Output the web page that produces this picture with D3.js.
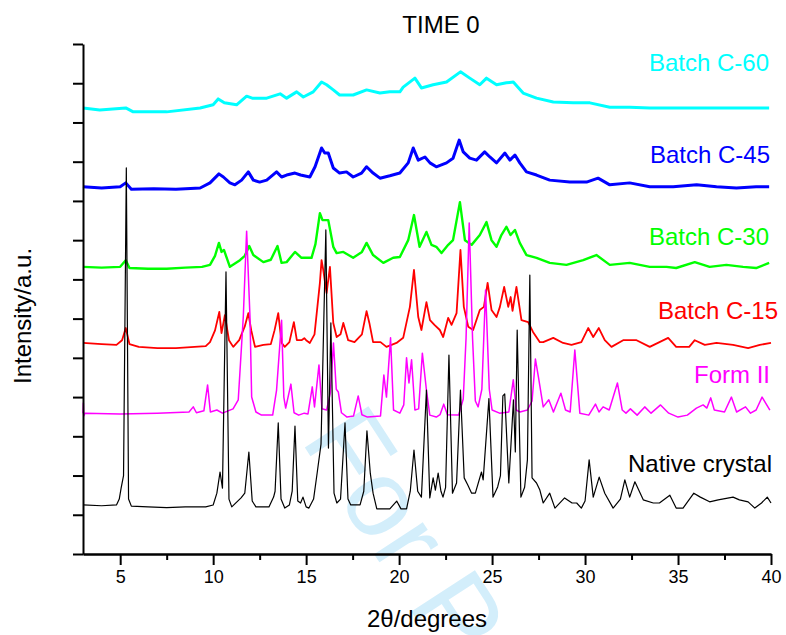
<!DOCTYPE html>
<html>
<head>
<meta charset="utf-8">
<script src="https://cdn.jsdelivr.net/npm/d3@7"></script>
<style>
  body { margin: 0; background: #fff; }
  text { font-family: Arial, "Liberation Sans", sans-serif; }
</style>
</head>
<body>
<div id="chart"></div>
<script>
// XRD patterns, intensity in arbitrary units (stacked), 2theta in degrees
const native = [[3.0,1.25],[4.0,1.23],[4.8,1.25],[4.95,1.40],[5.05,1.68],[5.18,2.0],[5.33,9.84],[5.45,1.40],[5.6,1.22],[6.5,1.20],[7.5,1.18],[8.5,1.20],[9.6,1.20],[10.0,1.25],[10.2,1.55],[10.37,2.09],[10.5,1.68],[10.69,7.19],[10.85,1.40],[11.0,1.20],[11.5,1.43],[11.7,1.55],[11.92,2.60],[12.1,1.35],[12.3,1.20],[13.0,1.20],[13.25,1.45],[13.33,1.60],[13.5,3.34],[13.65,1.40],[13.85,1.17],[14.1,1.25],[14.25,1.60],[14.4,3.26],[14.55,1.35],[14.7,1.30],[14.83,1.45],[15.0,1.20],[15.15,1.17],[15.4,1.40],[15.6,2.09],[15.8,2.80],[16.06,8.26],[16.2,2.70],[16.33,5.89],[16.5,1.55],[16.65,1.30],[16.85,1.40],[17.09,3.34],[17.25,1.40],[17.4,1.25],[17.9,1.25],[18.1,1.60],[18.27,3.14],[18.45,2.06],[18.6,1.55],[18.8,1.15],[19.5,1.15],[19.87,1.35],[20.1,1.15],[20.4,1.15],[20.6,1.60],[20.8,2.65],[21.0,1.60],[21.2,1.45],[21.47,4.18],[21.65,1.43],[21.83,1.94],[21.95,1.63],[22.1,2.06],[22.25,1.60],[22.36,1.45],[22.5,1.70],[22.68,5.07],[22.87,1.55],[23.09,1.81],[23.3,4.18],[23.5,1.94],[23.7,1.75],[23.9,1.55],[24.1,1.55],[24.43,2.09],[24.52,1.89],[24.83,3.96],[25.05,1.45],[25.3,1.71],[25.45,2.0],[25.58,4.03],[25.68,4.08],[25.9,1.81],[26.15,3.93],[26.25,2.6],[26.35,5.71],[26.55,1.45],[26.75,1.70],[26.9,2.40],[27.03,7.11],[27.15,1.94],[27.39,1.81],[27.57,1.63],[27.75,1.30],[28.1,1.55],[28.38,1.17],[28.9,1.43],[29.3,1.30],[29.55,1.30],[29.8,1.17],[30.0,1.35],[30.22,2.40],[30.44,1.45],[30.76,1.96],[31.06,1.55],[31.51,1.17],[31.9,1.40],[32.14,1.89],[32.4,1.45],[32.68,1.84],[33.13,1.38],[33.67,1.30],[34.0,1.30],[34.56,1.50],[34.9,1.17],[35.27,1.17],[35.85,1.55],[36.2,1.45],[36.7,1.33],[37.16,1.38],[37.96,1.45],[38.3,1.38],[38.77,1.33],[39.13,1.17],[39.49,1.30],[39.8,1.45],[40.0,1.30]];

const formII = [[3.0,3.59],[3.02,3.85],[3.04,3.52],[3.1,3.59],[5.0,3.57],[7.0,3.59],[8.7,3.62],[8.93,3.75],[9.1,3.60],[9.5,3.65],[9.7,4.31],[9.85,3.62],[10.2,3.67],[10.5,3.59],[11.07,3.70],[11.35,3.93],[11.62,6.04],[11.8,8.23],[11.98,6.04],[12.07,4.0],[12.3,3.62],[12.6,3.54],[13.2,3.54],[13.41,4.18],[13.68,5.96],[13.8,4.0],[13.9,3.72],[14.18,4.33],[14.35,3.60],[14.6,3.54],[14.9,3.59],[15.1,3.57],[15.33,4.26],[15.45,3.75],[15.69,4.82],[15.85,3.70],[16.1,3.67],[16.3,4.1],[16.47,5.38],[16.62,4.20],[16.73,4.13],[16.9,3.60],[17.2,3.49],[17.55,3.52],[17.8,4.03],[18.0,3.55],[18.3,3.49],[19.0,3.52],[19.18,4.56],[19.32,4.00],[19.54,5.51],[19.7,3.67],[20.04,3.59],[20.25,3.80],[20.4,5.0],[20.53,4.36],[20.67,4.95],[20.85,3.67],[21.05,3.70],[21.25,5.12],[21.47,4.18],[21.65,3.54],[22.0,3.49],[22.2,3.55],[22.4,3.82],[22.6,3.55],[23.2,3.54],[23.45,3.95],[23.6,5.5],[23.77,8.44],[23.95,5.5],[24.1,3.9],[24.25,3.75],[24.45,4.2],[24.65,6.73],[24.85,4.2],[25.0,3.67],[25.4,3.59],[25.9,3.62],[26.14,4.44],[26.3,3.67],[26.5,3.62],[26.9,3.67],[27.15,3.9],[27.33,4.97],[27.5,4.49],[27.75,3.75],[28.05,3.93],[28.3,3.62],[28.7,4.10],[28.95,3.67],[29.2,3.62],[29.45,5.20],[29.72,3.59],[30.2,3.54],[30.56,3.82],[30.75,3.62],[30.97,3.75],[31.3,3.67],[31.74,4.36],[32.0,3.67],[32.2,3.59],[32.44,3.70],[32.8,3.54],[33.21,3.75],[33.55,3.59],[34.06,3.80],[34.5,3.59],[35.0,3.49],[35.5,3.54],[35.99,3.72],[36.35,3.80],[36.55,3.72],[36.76,3.98],[36.95,3.67],[37.5,3.62],[37.87,4.00],[38.15,3.62],[38.63,3.75],[38.9,3.59],[39.2,3.67],[39.52,4.00],[39.94,3.67]];

const batchC15 = [[3.0,5.38],[4.0,5.35],[4.8,5.33],[5.1,5.45],[5.3,5.76],[5.5,5.35],[6.0,5.28],[7.0,5.25],[8.0,5.25],[9.0,5.28],[9.6,5.30],[9.83,5.40],[10.1,5.70],[10.33,6.17],[10.45,5.63],[10.63,6.09],[10.85,5.45],[11.08,5.28],[11.4,5.45],[11.7,5.8],[11.89,6.14],[12.05,5.7],[12.25,5.28],[12.7,5.33],[13.1,5.35],[13.3,5.7],[13.5,6.14],[13.68,5.38],[13.85,5.28],[14.1,5.40],[14.34,5.91],[14.5,5.45],[14.75,5.45],[14.9,5.5],[15.0,5.45],[15.2,5.38],[15.45,5.6],[15.74,6.91],[15.83,7.49],[15.92,7.24],[16.1,6.65],[16.28,7.32],[16.46,5.89],[16.64,5.53],[16.85,5.6],[17.0,5.89],[17.26,5.45],[17.6,5.40],[18.0,5.6],[18.25,6.19],[18.4,5.89],[18.6,5.40],[19.0,5.40],[19.32,5.28],[19.86,5.38],[20.22,5.51],[20.58,6.30],[20.8,7.24],[21.03,6.04],[21.2,5.71],[21.47,6.42],[21.66,5.96],[21.9,5.84],[22.19,5.71],[22.37,5.53],[22.64,6.02],[22.82,5.84],[23.09,6.14],[23.3,7.75],[23.48,6.30],[23.72,5.79],[23.98,5.71],[24.34,6.22],[24.56,6.30],[24.76,6.91],[24.97,6.22],[25.24,6.04],[25.42,6.30],[25.65,6.81],[25.87,6.30],[26.0,6.55],[26.1,6.2],[26.31,6.81],[26.58,5.96],[26.94,5.91],[27.2,5.66],[27.57,5.40],[27.75,5.40],[28.29,5.51],[28.82,5.38],[29.27,5.33],[29.8,5.40],[30.17,5.76],[30.44,5.53],[30.74,5.76],[31.06,5.45],[31.42,5.28],[32.05,5.45],[32.77,5.45],[33.48,5.28],[34.47,5.51],[34.9,5.28],[35.6,5.28],[35.9,5.45],[36.44,5.33],[37.07,5.38],[37.96,5.33],[38.77,5.25],[39.4,5.33],[40.0,5.38]];

const batchC30 = [[3.0,7.32],[4.0,7.30],[5.0,7.32],[5.3,7.49],[5.5,7.29],[6.5,7.27],[7.5,7.27],[8.5,7.30],[9.4,7.32],[9.83,7.37],[10.1,7.6],[10.31,7.93],[10.45,7.70],[10.58,7.75],[10.9,7.32],[11.44,7.49],[11.7,7.6],[11.94,7.85],[12.16,7.62],[12.7,7.44],[13.1,7.5],[13.46,7.85],[13.68,7.42],[13.95,7.44],[14.4,7.70],[14.75,7.55],[15.29,7.55],[15.5,7.9],[15.74,8.69],[15.88,8.51],[16.19,8.51],[16.46,7.83],[16.64,7.67],[17.0,7.70],[17.53,7.55],[18.0,7.7],[18.25,7.93],[18.6,7.62],[19.15,7.42],[19.68,7.55],[20.04,7.57],[20.49,8.00],[20.8,8.64],[21.1,7.83],[21.47,8.21],[21.74,7.88],[22.0,7.83],[22.28,7.67],[22.64,7.88],[22.9,8.00],[23.27,8.97],[23.54,8.00],[23.9,7.88],[24.34,8.13],[24.7,8.46],[24.97,8.00],[25.24,7.83],[25.5,8.13],[25.77,8.34],[25.99,8.13],[26.23,8.26],[26.49,7.93],[26.85,7.62],[27.39,7.55],[28.1,7.42],[29.0,7.37],[29.9,7.49],[30.61,7.62],[31.33,7.37],[32.4,7.42],[33.48,7.32],[34.38,7.32],[34.9,7.29],[35.9,7.44],[36.7,7.32],[37.6,7.37],[38.5,7.32],[39.2,7.29],[39.9,7.42]];

const batchC45 = [[3.0,9.36],[4.0,9.33],[5.0,9.36],[5.3,9.46],[5.6,9.30],[6.8,9.31],[8.0,9.30],[9.3,9.33],[9.83,9.46],[10.31,9.69],[10.55,9.61],[10.9,9.46],[11.17,9.41],[11.53,9.53],[11.89,9.74],[12.16,9.53],[12.5,9.48],[12.88,9.53],[13.41,9.74],[13.68,9.61],[13.95,9.66],[14.4,9.71],[14.7,9.66],[15.2,9.61],[15.48,9.87],[15.83,10.35],[16.0,10.22],[16.19,10.22],[16.46,9.84],[16.8,9.71],[17.17,9.74],[17.53,9.61],[17.98,9.71],[18.25,9.87],[18.6,9.71],[18.97,9.58],[19.5,9.64],[20.04,9.71],[20.49,9.97],[20.76,10.35],[21.03,10.04],[21.39,10.12],[21.66,9.97],[22.0,9.87],[22.55,9.97],[22.9,10.09],[23.23,10.55],[23.45,10.25],[23.8,10.09],[24.16,10.04],[24.6,10.25],[24.88,10.12],[25.24,9.97],[25.69,10.22],[25.96,10.04],[26.23,10.17],[26.49,9.97],[26.85,9.74],[27.39,9.66],[28.1,9.53],[29.18,9.48],[30.08,9.48],[30.7,9.58],[31.33,9.41],[32.4,9.46],[33.48,9.36],[34.74,9.36],[36.0,9.41],[37.07,9.36],[38.14,9.33],[39.2,9.36],[39.9,9.36]];

const batchC60 = [[3.0,11.37],[3.9,11.32],[5.3,11.37],[5.7,11.27],[7.5,11.27],[9.3,11.37],[10.0,11.45],[10.27,11.60],[10.6,11.50],[11.26,11.45],[11.8,11.67],[12.1,11.62],[12.88,11.62],[13.6,11.73],[13.95,11.62],[14.49,11.78],[14.85,11.65],[15.38,11.78],[15.83,12.03],[16.1,11.96],[16.46,11.83],[16.8,11.70],[17.53,11.70],[18.25,11.83],[18.97,11.75],[19.5,11.78],[20.04,11.78],[20.22,11.90],[20.85,12.13],[21.2,11.88],[21.83,11.96],[22.55,12.03],[23.3,12.29],[23.8,12.13],[24.34,11.96],[24.7,12.13],[25.24,11.96],[25.77,12.01],[26.14,12.03],[26.67,11.75],[27.39,11.62],[28.29,11.52],[29.36,11.50],[30.26,11.50],[31.33,11.39],[32.4,11.39],[33.48,11.37],[34.74,11.37],[36.0,11.37],[37.43,11.37],[38.86,11.37],[39.9,11.37]];

const seriesNames = ["Batch C-60", "Batch C-45", "Batch C-30", "Batch C-15", "Form II", "Native crystal"];
const seriesData = [batchC60, batchC45, batchC30, batchC15, formII, native];
const seriesColors = ["#00ffff", "#0000ff", "#00ff00", "#ff0000", "#ff00ff", "#000000"];
const xTicks = [5, 10, 15, 20, 25, 30, 35, 40];
const xMinorTicks = [7.5, 12.5, 17.5, 22.5, 27.5, 32.5, 37.5];
const yTicks = d3.range(0, 14);

const width = 786, height = 635;
const margin = { top: 44, right: 15, bottom: 81, left: 83 };

const svg = d3.select("#chart")
  .append("svg")
    .attr("width", width)
    .attr("height", height);

svg.append("rect")
  .attr("width", width)
  .attr("height", height)
  .attr("fill", "#fff");

const x = d3.scaleLinear()
  .domain([3, 40])
  .range([margin.left, width - margin.right]);

const y = d3.scaleLinear()
  .domain([0, 13])
  .range([height - margin.bottom, margin.top]);

// faint journal watermark behind the traces
svg.append("text")
  .attr("transform", "translate(300,440) rotate(57)")
  .attr("font-size", 110)
  .attr("fill", "#d3eefb")
  .text("For P");

const line = d3.line()
  .x(d => x(d[0]))
  .y(d => y(d[1]));

// the amorphous traces are noisy, a wider stroke stands in for the noise band
const strokeWidths = [3, 3, 2.4, 1.8, 1.5, 1.2];

svg.append("g")
  .selectAll("path")
  .data(seriesData)
  .enter()
  .append("path")
    .attr("d", line)
    .attr("fill", "none")
    .attr("stroke", (d, i) => seriesColors[i])
    .attr("stroke-width", (d, i) => strokeWidths[i])
    .attr("stroke-linejoin", "round");

// axes
const xAxis = svg.append("g")
  .attr("transform", `translate(0,${height - margin.bottom})`)
  .call(d3.axisBottom(x).tickValues(xTicks).tickSize(11).tickPadding(5).tickSizeOuter(0));
xAxis.append("g")
  .call(d3.axisBottom(x).tickValues(xMinorTicks).tickSize(6).tickFormat("").tickSizeOuter(0));

const yAxis = svg.append("g")
  .attr("transform", `translate(${margin.left},0)`)
  .call(d3.axisLeft(y).tickValues(yTicks).tickSize(10).tickFormat("").tickSizeOuter(0));

svg.selectAll(".domain")
  .attr("stroke", "#000")
  .attr("stroke-width", 2);
svg.selectAll(".tick line")
  .attr("stroke", "#000")
  .attr("stroke-width", 2);
xAxis.selectAll(".tick text")
  .attr("font-size", 18)
  .attr("font-family", "Arial, 'Liberation Sans', sans-serif")
  .attr("fill", "#000");

// series labels
const labelPos = [[769, 71], [770, 163], [769, 245], [778, 319], [770, 383], [772, 472]];
svg.append("g")
  .selectAll("text")
  .data(seriesNames)
  .enter()
  .append("text")
    .attr("x", (d, i) => labelPos[i][0])
    .attr("y", (d, i) => labelPos[i][1])
    .attr("text-anchor", "end")
    .attr("font-size", 24)
    .attr("fill", (d, i) => seriesColors[i])
    .text(d => d);

svg.append("text")
  .attr("x", 441)
  .attr("y", 33)
  .attr("text-anchor", "middle")
  .attr("font-size", 24)
  .text("TIME 0");

svg.append("text")
  .attr("x", 427)
  .attr("y", 627)
  .attr("text-anchor", "middle")
  .attr("font-size", 24)
  .text("2θ/degrees");

svg.append("text")
  .attr("transform", "translate(31,316) rotate(-90)")
  .attr("text-anchor", "middle")
  .attr("font-size", 24)
  .text("Intensity/a.u.");
</script>
</body>
</html>
